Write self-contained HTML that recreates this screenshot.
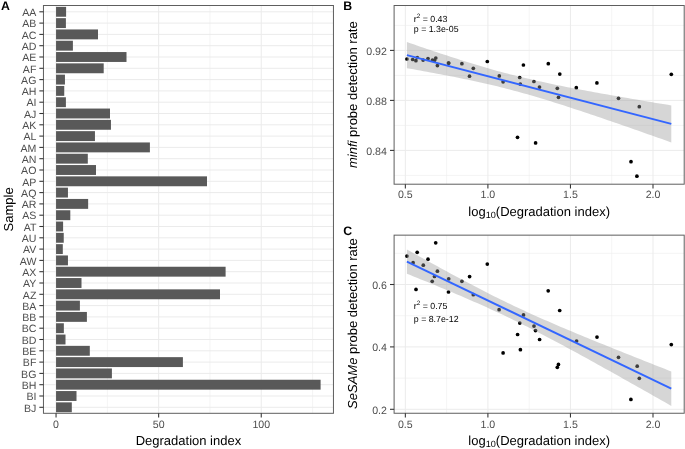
<!DOCTYPE html>
<html><head><meta charset="utf-8"><style>
html,body{margin:0;padding:0;background:#fff;}
svg{display:block;font-family:"Liberation Sans", sans-serif;text-rendering:geometricPrecision;will-change:transform;}
</style></head><body>
<svg width="685" height="449" viewBox="0 0 685 449">
<rect width="685" height="449" fill="#fff"/>
<line x1="43.45" y1="11.8" x2="333.45" y2="11.8" stroke="#EBEBEB" stroke-width="1"/>
<line x1="43.45" y1="23.1" x2="333.45" y2="23.1" stroke="#EBEBEB" stroke-width="1"/>
<line x1="43.45" y1="34.4" x2="333.45" y2="34.4" stroke="#EBEBEB" stroke-width="1"/>
<line x1="43.45" y1="45.7" x2="333.45" y2="45.7" stroke="#EBEBEB" stroke-width="1"/>
<line x1="43.45" y1="57" x2="333.45" y2="57" stroke="#EBEBEB" stroke-width="1"/>
<line x1="43.45" y1="68.3" x2="333.45" y2="68.3" stroke="#EBEBEB" stroke-width="1"/>
<line x1="43.45" y1="79.6" x2="333.45" y2="79.6" stroke="#EBEBEB" stroke-width="1"/>
<line x1="43.45" y1="90.9" x2="333.45" y2="90.9" stroke="#EBEBEB" stroke-width="1"/>
<line x1="43.45" y1="102.2" x2="333.45" y2="102.2" stroke="#EBEBEB" stroke-width="1"/>
<line x1="43.45" y1="113.5" x2="333.45" y2="113.5" stroke="#EBEBEB" stroke-width="1"/>
<line x1="43.45" y1="124.8" x2="333.45" y2="124.8" stroke="#EBEBEB" stroke-width="1"/>
<line x1="43.45" y1="136.1" x2="333.45" y2="136.1" stroke="#EBEBEB" stroke-width="1"/>
<line x1="43.45" y1="147.4" x2="333.45" y2="147.4" stroke="#EBEBEB" stroke-width="1"/>
<line x1="43.45" y1="158.7" x2="333.45" y2="158.7" stroke="#EBEBEB" stroke-width="1"/>
<line x1="43.45" y1="170" x2="333.45" y2="170" stroke="#EBEBEB" stroke-width="1"/>
<line x1="43.45" y1="181.3" x2="333.45" y2="181.3" stroke="#EBEBEB" stroke-width="1"/>
<line x1="43.45" y1="192.6" x2="333.45" y2="192.6" stroke="#EBEBEB" stroke-width="1"/>
<line x1="43.45" y1="203.9" x2="333.45" y2="203.9" stroke="#EBEBEB" stroke-width="1"/>
<line x1="43.45" y1="215.2" x2="333.45" y2="215.2" stroke="#EBEBEB" stroke-width="1"/>
<line x1="43.45" y1="226.5" x2="333.45" y2="226.5" stroke="#EBEBEB" stroke-width="1"/>
<line x1="43.45" y1="237.8" x2="333.45" y2="237.8" stroke="#EBEBEB" stroke-width="1"/>
<line x1="43.45" y1="249.1" x2="333.45" y2="249.1" stroke="#EBEBEB" stroke-width="1"/>
<line x1="43.45" y1="260.4" x2="333.45" y2="260.4" stroke="#EBEBEB" stroke-width="1"/>
<line x1="43.45" y1="271.7" x2="333.45" y2="271.7" stroke="#EBEBEB" stroke-width="1"/>
<line x1="43.45" y1="283" x2="333.45" y2="283" stroke="#EBEBEB" stroke-width="1"/>
<line x1="43.45" y1="294.3" x2="333.45" y2="294.3" stroke="#EBEBEB" stroke-width="1"/>
<line x1="43.45" y1="305.6" x2="333.45" y2="305.6" stroke="#EBEBEB" stroke-width="1"/>
<line x1="43.45" y1="316.9" x2="333.45" y2="316.9" stroke="#EBEBEB" stroke-width="1"/>
<line x1="43.45" y1="328.2" x2="333.45" y2="328.2" stroke="#EBEBEB" stroke-width="1"/>
<line x1="43.45" y1="339.5" x2="333.45" y2="339.5" stroke="#EBEBEB" stroke-width="1"/>
<line x1="43.45" y1="350.8" x2="333.45" y2="350.8" stroke="#EBEBEB" stroke-width="1"/>
<line x1="43.45" y1="362.1" x2="333.45" y2="362.1" stroke="#EBEBEB" stroke-width="1"/>
<line x1="43.45" y1="373.4" x2="333.45" y2="373.4" stroke="#EBEBEB" stroke-width="1"/>
<line x1="43.45" y1="384.7" x2="333.45" y2="384.7" stroke="#EBEBEB" stroke-width="1"/>
<line x1="43.45" y1="396" x2="333.45" y2="396" stroke="#EBEBEB" stroke-width="1"/>
<line x1="43.45" y1="407.3" x2="333.45" y2="407.3" stroke="#EBEBEB" stroke-width="1"/>
<line x1="107.35" y1="5.5" x2="107.35" y2="413.3" stroke="#EBEBEB" stroke-width="0.55"/>
<line x1="209.95" y1="5.5" x2="209.95" y2="413.3" stroke="#EBEBEB" stroke-width="0.55"/>
<line x1="312.55" y1="5.5" x2="312.55" y2="413.3" stroke="#EBEBEB" stroke-width="0.55"/>
<line x1="56.05" y1="5.5" x2="56.05" y2="413.3" stroke="#EBEBEB" stroke-width="1"/>
<line x1="158.65" y1="5.5" x2="158.65" y2="413.3" stroke="#EBEBEB" stroke-width="1"/>
<line x1="261.25" y1="5.5" x2="261.25" y2="413.3" stroke="#EBEBEB" stroke-width="1"/>
<rect x="56.05" y="6.85" width="10.05" height="9.9" fill="#595959"/>
<rect x="56.05" y="18.15" width="9.85" height="9.9" fill="#595959"/>
<rect x="56.05" y="29.45" width="41.95" height="9.9" fill="#595959"/>
<rect x="56.05" y="40.75" width="16.85" height="9.9" fill="#595959"/>
<rect x="56.05" y="52.05" width="70.45" height="9.9" fill="#595959"/>
<rect x="56.05" y="63.35" width="47.65" height="9.9" fill="#595959"/>
<rect x="56.05" y="74.65" width="8.9" height="9.9" fill="#595959"/>
<rect x="56.05" y="85.95" width="8.2" height="9.9" fill="#595959"/>
<rect x="56.05" y="97.25" width="9.85" height="9.9" fill="#595959"/>
<rect x="56.05" y="108.55" width="53.95" height="9.9" fill="#595959"/>
<rect x="56.05" y="119.85" width="54.9" height="9.9" fill="#595959"/>
<rect x="56.05" y="131.15" width="38.9" height="9.9" fill="#595959"/>
<rect x="56.05" y="142.45" width="93.85" height="9.9" fill="#595959"/>
<rect x="56.05" y="153.75" width="31.75" height="9.9" fill="#595959"/>
<rect x="56.05" y="165.05" width="39.95" height="9.9" fill="#595959"/>
<rect x="56.05" y="176.35" width="150.95" height="9.9" fill="#595959"/>
<rect x="56.05" y="187.65" width="11.9" height="9.9" fill="#595959"/>
<rect x="56.05" y="198.95" width="32.1" height="9.9" fill="#595959"/>
<rect x="56.05" y="210.25" width="14.25" height="9.9" fill="#595959"/>
<rect x="56.05" y="221.55" width="7.05" height="9.9" fill="#595959"/>
<rect x="56.05" y="232.85" width="7.7" height="9.9" fill="#595959"/>
<rect x="56.05" y="244.15" width="6.75" height="9.9" fill="#595959"/>
<rect x="56.05" y="255.45" width="11.9" height="9.9" fill="#595959"/>
<rect x="56.05" y="266.75" width="169.55" height="9.9" fill="#595959"/>
<rect x="56.05" y="278.05" width="25.45" height="9.9" fill="#595959"/>
<rect x="56.05" y="289.35" width="163.95" height="9.9" fill="#595959"/>
<rect x="56.05" y="300.65" width="23.85" height="9.9" fill="#595959"/>
<rect x="56.05" y="311.95" width="30.85" height="9.9" fill="#595959"/>
<rect x="56.05" y="323.25" width="7.8" height="9.9" fill="#595959"/>
<rect x="56.05" y="334.55" width="9.45" height="9.9" fill="#595959"/>
<rect x="56.05" y="345.85" width="33.75" height="9.9" fill="#595959"/>
<rect x="56.05" y="357.15" width="126.85" height="9.9" fill="#595959"/>
<rect x="56.05" y="368.45" width="55.85" height="9.9" fill="#595959"/>
<rect x="56.05" y="379.75" width="264.55" height="9.9" fill="#595959"/>
<rect x="56.05" y="391.05" width="20.45" height="9.9" fill="#595959"/>
<rect x="56.05" y="402.35" width="15.75" height="9.9" fill="#595959"/>
<rect x="43.45" y="5.5" width="290" height="407.8" fill="none" stroke="#5e5e5e" stroke-width="1"/>
<line x1="39.35" y1="11.8" x2="43.45" y2="11.8" stroke="#333333" stroke-width="1.07"/>
<text x="36.4" y="16.05" font-size="10.6" fill="#4D4D4D" text-anchor="end">AA</text>
<line x1="39.35" y1="23.1" x2="43.45" y2="23.1" stroke="#333333" stroke-width="1.07"/>
<text x="36.4" y="27.35" font-size="10.6" fill="#4D4D4D" text-anchor="end">AB</text>
<line x1="39.35" y1="34.4" x2="43.45" y2="34.4" stroke="#333333" stroke-width="1.07"/>
<text x="36.4" y="38.65" font-size="10.6" fill="#4D4D4D" text-anchor="end">AC</text>
<line x1="39.35" y1="45.7" x2="43.45" y2="45.7" stroke="#333333" stroke-width="1.07"/>
<text x="36.4" y="49.95" font-size="10.6" fill="#4D4D4D" text-anchor="end">AD</text>
<line x1="39.35" y1="57" x2="43.45" y2="57" stroke="#333333" stroke-width="1.07"/>
<text x="36.4" y="61.25" font-size="10.6" fill="#4D4D4D" text-anchor="end">AE</text>
<line x1="39.35" y1="68.3" x2="43.45" y2="68.3" stroke="#333333" stroke-width="1.07"/>
<text x="36.4" y="72.55" font-size="10.6" fill="#4D4D4D" text-anchor="end">AF</text>
<line x1="39.35" y1="79.6" x2="43.45" y2="79.6" stroke="#333333" stroke-width="1.07"/>
<text x="36.4" y="83.85" font-size="10.6" fill="#4D4D4D" text-anchor="end">AG</text>
<line x1="39.35" y1="90.9" x2="43.45" y2="90.9" stroke="#333333" stroke-width="1.07"/>
<text x="36.4" y="95.15" font-size="10.6" fill="#4D4D4D" text-anchor="end">AH</text>
<line x1="39.35" y1="102.2" x2="43.45" y2="102.2" stroke="#333333" stroke-width="1.07"/>
<text x="36.4" y="106.45" font-size="10.6" fill="#4D4D4D" text-anchor="end">AI</text>
<line x1="39.35" y1="113.5" x2="43.45" y2="113.5" stroke="#333333" stroke-width="1.07"/>
<text x="36.4" y="117.75" font-size="10.6" fill="#4D4D4D" text-anchor="end">AJ</text>
<line x1="39.35" y1="124.8" x2="43.45" y2="124.8" stroke="#333333" stroke-width="1.07"/>
<text x="36.4" y="129.05" font-size="10.6" fill="#4D4D4D" text-anchor="end">AK</text>
<line x1="39.35" y1="136.1" x2="43.45" y2="136.1" stroke="#333333" stroke-width="1.07"/>
<text x="36.4" y="140.35" font-size="10.6" fill="#4D4D4D" text-anchor="end">AL</text>
<line x1="39.35" y1="147.4" x2="43.45" y2="147.4" stroke="#333333" stroke-width="1.07"/>
<text x="36.4" y="151.65" font-size="10.6" fill="#4D4D4D" text-anchor="end">AM</text>
<line x1="39.35" y1="158.7" x2="43.45" y2="158.7" stroke="#333333" stroke-width="1.07"/>
<text x="36.4" y="162.95" font-size="10.6" fill="#4D4D4D" text-anchor="end">AN</text>
<line x1="39.35" y1="170" x2="43.45" y2="170" stroke="#333333" stroke-width="1.07"/>
<text x="36.4" y="174.25" font-size="10.6" fill="#4D4D4D" text-anchor="end">AO</text>
<line x1="39.35" y1="181.3" x2="43.45" y2="181.3" stroke="#333333" stroke-width="1.07"/>
<text x="36.4" y="185.55" font-size="10.6" fill="#4D4D4D" text-anchor="end">AP</text>
<line x1="39.35" y1="192.6" x2="43.45" y2="192.6" stroke="#333333" stroke-width="1.07"/>
<text x="36.4" y="196.85" font-size="10.6" fill="#4D4D4D" text-anchor="end">AQ</text>
<line x1="39.35" y1="203.9" x2="43.45" y2="203.9" stroke="#333333" stroke-width="1.07"/>
<text x="36.4" y="208.15" font-size="10.6" fill="#4D4D4D" text-anchor="end">AR</text>
<line x1="39.35" y1="215.2" x2="43.45" y2="215.2" stroke="#333333" stroke-width="1.07"/>
<text x="36.4" y="219.45" font-size="10.6" fill="#4D4D4D" text-anchor="end">AS</text>
<line x1="39.35" y1="226.5" x2="43.45" y2="226.5" stroke="#333333" stroke-width="1.07"/>
<text x="36.4" y="230.75" font-size="10.6" fill="#4D4D4D" text-anchor="end">AT</text>
<line x1="39.35" y1="237.8" x2="43.45" y2="237.8" stroke="#333333" stroke-width="1.07"/>
<text x="36.4" y="242.05" font-size="10.6" fill="#4D4D4D" text-anchor="end">AU</text>
<line x1="39.35" y1="249.1" x2="43.45" y2="249.1" stroke="#333333" stroke-width="1.07"/>
<text x="36.4" y="253.35" font-size="10.6" fill="#4D4D4D" text-anchor="end">AV</text>
<line x1="39.35" y1="260.4" x2="43.45" y2="260.4" stroke="#333333" stroke-width="1.07"/>
<text x="36.4" y="264.65" font-size="10.6" fill="#4D4D4D" text-anchor="end">AW</text>
<line x1="39.35" y1="271.7" x2="43.45" y2="271.7" stroke="#333333" stroke-width="1.07"/>
<text x="36.4" y="275.95" font-size="10.6" fill="#4D4D4D" text-anchor="end">AX</text>
<line x1="39.35" y1="283" x2="43.45" y2="283" stroke="#333333" stroke-width="1.07"/>
<text x="36.4" y="287.25" font-size="10.6" fill="#4D4D4D" text-anchor="end">AY</text>
<line x1="39.35" y1="294.3" x2="43.45" y2="294.3" stroke="#333333" stroke-width="1.07"/>
<text x="36.4" y="298.55" font-size="10.6" fill="#4D4D4D" text-anchor="end">AZ</text>
<line x1="39.35" y1="305.6" x2="43.45" y2="305.6" stroke="#333333" stroke-width="1.07"/>
<text x="36.4" y="309.85" font-size="10.6" fill="#4D4D4D" text-anchor="end">BA</text>
<line x1="39.35" y1="316.9" x2="43.45" y2="316.9" stroke="#333333" stroke-width="1.07"/>
<text x="36.4" y="321.15" font-size="10.6" fill="#4D4D4D" text-anchor="end">BB</text>
<line x1="39.35" y1="328.2" x2="43.45" y2="328.2" stroke="#333333" stroke-width="1.07"/>
<text x="36.4" y="332.45" font-size="10.6" fill="#4D4D4D" text-anchor="end">BC</text>
<line x1="39.35" y1="339.5" x2="43.45" y2="339.5" stroke="#333333" stroke-width="1.07"/>
<text x="36.4" y="343.75" font-size="10.6" fill="#4D4D4D" text-anchor="end">BD</text>
<line x1="39.35" y1="350.8" x2="43.45" y2="350.8" stroke="#333333" stroke-width="1.07"/>
<text x="36.4" y="355.05" font-size="10.6" fill="#4D4D4D" text-anchor="end">BE</text>
<line x1="39.35" y1="362.1" x2="43.45" y2="362.1" stroke="#333333" stroke-width="1.07"/>
<text x="36.4" y="366.35" font-size="10.6" fill="#4D4D4D" text-anchor="end">BF</text>
<line x1="39.35" y1="373.4" x2="43.45" y2="373.4" stroke="#333333" stroke-width="1.07"/>
<text x="36.4" y="377.65" font-size="10.6" fill="#4D4D4D" text-anchor="end">BG</text>
<line x1="39.35" y1="384.7" x2="43.45" y2="384.7" stroke="#333333" stroke-width="1.07"/>
<text x="36.4" y="388.95" font-size="10.6" fill="#4D4D4D" text-anchor="end">BH</text>
<line x1="39.35" y1="396" x2="43.45" y2="396" stroke="#333333" stroke-width="1.07"/>
<text x="36.4" y="400.25" font-size="10.6" fill="#4D4D4D" text-anchor="end">BI</text>
<line x1="39.35" y1="407.3" x2="43.45" y2="407.3" stroke="#333333" stroke-width="1.07"/>
<text x="36.4" y="411.55" font-size="10.6" fill="#4D4D4D" text-anchor="end">BJ</text>
<line x1="56.05" y1="413.3" x2="56.05" y2="417.5" stroke="#333333" stroke-width="1.07"/>
<text x="56.05" y="428" font-size="10.6" fill="#4D4D4D" text-anchor="middle">0</text>
<line x1="158.65" y1="413.3" x2="158.65" y2="417.5" stroke="#333333" stroke-width="1.07"/>
<text x="158.65" y="428" font-size="10.6" fill="#4D4D4D" text-anchor="middle">50</text>
<line x1="261.25" y1="413.3" x2="261.25" y2="417.5" stroke="#333333" stroke-width="1.07"/>
<text x="261.25" y="428" font-size="10.6" fill="#4D4D4D" text-anchor="middle">100</text>
<text x="188.45" y="445.1" font-size="13" fill="#000" text-anchor="middle">Degradation index</text>
<text transform="translate(13.3,209.4) rotate(-90)" font-size="13" fill="#000" text-anchor="middle">Sample</text>
<text x="1" y="9.8" font-size="12.3" fill="#000" text-anchor="start" font-weight="bold">A</text>
<line x1="394.1" y1="25.4" x2="684.2" y2="25.4" stroke="#EBEBEB" stroke-width="0.55"/>
<line x1="394.1" y1="75.4" x2="684.2" y2="75.4" stroke="#EBEBEB" stroke-width="0.55"/>
<line x1="394.1" y1="125.4" x2="684.2" y2="125.4" stroke="#EBEBEB" stroke-width="0.55"/>
<line x1="394.1" y1="175.4" x2="684.2" y2="175.4" stroke="#EBEBEB" stroke-width="0.55"/>
<line x1="446.62" y1="5.5" x2="446.62" y2="184.2" stroke="#EBEBEB" stroke-width="0.55"/>
<line x1="529.17" y1="5.5" x2="529.17" y2="184.2" stroke="#EBEBEB" stroke-width="0.55"/>
<line x1="611.73" y1="5.5" x2="611.73" y2="184.2" stroke="#EBEBEB" stroke-width="0.55"/>
<line x1="394.1" y1="50.4" x2="684.2" y2="50.4" stroke="#EBEBEB" stroke-width="1"/>
<line x1="394.1" y1="100.4" x2="684.2" y2="100.4" stroke="#EBEBEB" stroke-width="1"/>
<line x1="394.1" y1="150.4" x2="684.2" y2="150.4" stroke="#EBEBEB" stroke-width="1"/>
<line x1="405.35" y1="5.5" x2="405.35" y2="184.2" stroke="#EBEBEB" stroke-width="1"/>
<line x1="487.9" y1="5.5" x2="487.9" y2="184.2" stroke="#EBEBEB" stroke-width="1"/>
<line x1="570.45" y1="5.5" x2="570.45" y2="184.2" stroke="#EBEBEB" stroke-width="1"/>
<line x1="653" y1="5.5" x2="653" y2="184.2" stroke="#EBEBEB" stroke-width="1"/>
<circle cx="406.9" cy="59" r="1.85" fill="#000"/>
<circle cx="412.7" cy="59.5" r="1.85" fill="#000"/>
<circle cx="415.9" cy="60.7" r="1.85" fill="#000"/>
<circle cx="417.3" cy="57.5" r="1.85" fill="#000"/>
<circle cx="423.1" cy="60.1" r="1.85" fill="#000"/>
<circle cx="428" cy="58.5" r="1.85" fill="#000"/>
<circle cx="432.5" cy="60" r="1.85" fill="#000"/>
<circle cx="434.5" cy="60.3" r="1.85" fill="#000"/>
<circle cx="435.8" cy="58" r="1.85" fill="#000"/>
<circle cx="437.4" cy="65.6" r="1.85" fill="#000"/>
<circle cx="448.7" cy="63.1" r="1.85" fill="#000"/>
<circle cx="448.5" cy="63.1" r="1.85" fill="#000"/>
<circle cx="461.9" cy="63.7" r="1.85" fill="#000"/>
<circle cx="469.5" cy="76.2" r="1.85" fill="#000"/>
<circle cx="473.3" cy="68.3" r="1.85" fill="#000"/>
<circle cx="487.3" cy="61.5" r="1.85" fill="#000"/>
<circle cx="499.3" cy="75.9" r="1.85" fill="#000"/>
<circle cx="503.1" cy="81.8" r="1.85" fill="#000"/>
<circle cx="517.5" cy="137.3" r="1.85" fill="#000"/>
<circle cx="519.7" cy="77.5" r="1.85" fill="#000"/>
<circle cx="520.3" cy="84.1" r="1.85" fill="#000"/>
<circle cx="523.4" cy="65" r="1.85" fill="#000"/>
<circle cx="533.9" cy="81.5" r="1.85" fill="#000"/>
<circle cx="535.6" cy="142.9" r="1.85" fill="#000"/>
<circle cx="539.5" cy="87.1" r="1.85" fill="#000"/>
<circle cx="548.3" cy="63.7" r="1.85" fill="#000"/>
<circle cx="557.3" cy="88.3" r="1.85" fill="#000"/>
<circle cx="558.5" cy="97.3" r="1.85" fill="#000"/>
<circle cx="559.8" cy="74.1" r="1.85" fill="#000"/>
<circle cx="576.3" cy="87.7" r="1.85" fill="#000"/>
<circle cx="596.9" cy="82.9" r="1.85" fill="#000"/>
<circle cx="618.5" cy="98.3" r="1.85" fill="#000"/>
<circle cx="631" cy="161.7" r="1.85" fill="#000"/>
<circle cx="636.9" cy="176.2" r="1.85" fill="#000"/>
<circle cx="639.3" cy="106.7" r="1.85" fill="#000"/>
<circle cx="671.3" cy="74.3" r="1.85" fill="#000"/>
<polygon points="406.9,42.06 410.25,43.21 413.59,44.36 416.94,45.5 420.29,46.64 423.63,47.78 426.98,48.91 430.33,50.04 433.67,51.16 437.02,52.27 440.37,53.38 443.72,54.49 447.06,55.58 450.41,56.67 453.76,57.76 457.1,58.83 460.45,59.9 463.8,60.95 467.14,62 470.49,63.04 473.84,64.06 477.18,65.08 480.53,66.08 483.88,67.07 487.22,68.04 490.57,69 493.92,69.95 497.26,70.88 500.61,71.8 503.96,72.7 507.31,73.59 510.65,74.46 514,75.31 517.35,76.15 520.69,76.98 524.04,77.79 527.39,78.58 530.73,79.36 534.08,80.13 537.43,80.88 540.77,81.62 544.12,82.34 547.47,83.06 550.81,83.77 554.16,84.46 557.51,85.14 560.85,85.82 564.2,86.49 567.55,87.15 570.89,87.8 574.24,88.44 577.59,89.08 580.94,89.71 584.28,90.34 587.63,90.96 590.98,91.57 594.32,92.18 597.67,92.79 601.02,93.39 604.36,93.99 607.71,94.59 611.06,95.18 614.4,95.77 617.75,96.35 621.1,96.93 624.44,97.51 627.79,98.09 631.14,98.67 634.48,99.24 637.83,99.81 641.18,100.38 644.53,100.95 647.87,101.51 651.22,102.07 654.57,102.64 657.91,103.2 661.26,103.76 664.61,104.32 667.95,104.87 671.3,105.43 671.3,142.41 667.95,141.22 664.61,140.04 661.26,138.85 657.91,137.67 654.57,136.49 651.22,135.31 647.87,134.13 644.53,132.96 641.18,131.78 637.83,130.61 634.48,129.44 631.14,128.27 627.79,127.1 624.44,125.94 621.1,124.77 617.75,123.62 614.4,122.46 611.06,121.3 607.71,120.15 604.36,119.01 601.02,117.86 597.67,116.72 594.32,115.59 590.98,114.46 587.63,113.33 584.28,112.21 580.94,111.09 577.59,109.98 574.24,108.88 570.89,107.78 567.55,106.69 564.2,105.61 560.85,104.53 557.51,103.47 554.16,102.41 550.81,101.36 547.47,100.32 544.12,99.3 540.77,98.28 537.43,97.28 534.08,96.29 530.73,95.31 527.39,94.35 524.04,93.4 520.69,92.47 517.35,91.55 514,90.65 510.65,89.76 507.31,88.89 503.96,88.03 500.61,87.19 497.26,86.37 493.92,85.56 490.57,84.77 487.22,83.99 483.88,83.22 480.53,82.47 477.18,81.73 473.84,81 470.49,80.28 467.14,79.58 463.8,78.88 460.45,78.2 457.1,77.52 453.76,76.85 450.41,76.19 447.06,75.54 443.72,74.9 440.37,74.26 437.02,73.63 433.67,73 430.33,72.38 426.98,71.76 423.63,71.15 420.29,70.55 416.94,69.94 413.59,69.34 410.25,68.75 406.9,68.16" fill="#999999" fill-opacity="0.4"/>
<line x1="406.9" y1="55.11" x2="671.3" y2="123.92" stroke="#3366FF" stroke-width="1.9"/>
<rect x="394.1" y="5.5" width="290.1" height="178.7" fill="none" stroke="#5e5e5e" stroke-width="1"/>
<line x1="390" y1="50.4" x2="394.1" y2="50.4" stroke="#333333" stroke-width="1.07"/>
<text x="386.9" y="54.7" font-size="10.6" fill="#4D4D4D" text-anchor="end">0.92</text>
<line x1="390" y1="100.4" x2="394.1" y2="100.4" stroke="#333333" stroke-width="1.07"/>
<text x="386.9" y="104.7" font-size="10.6" fill="#4D4D4D" text-anchor="end">0.88</text>
<line x1="390" y1="150.4" x2="394.1" y2="150.4" stroke="#333333" stroke-width="1.07"/>
<text x="386.9" y="154.7" font-size="10.6" fill="#4D4D4D" text-anchor="end">0.84</text>
<line x1="405.35" y1="184.2" x2="405.35" y2="188.4" stroke="#333333" stroke-width="1.07"/>
<text x="405.35" y="198.1" font-size="10.6" fill="#4D4D4D" text-anchor="middle">0.5</text>
<line x1="487.9" y1="184.2" x2="487.9" y2="188.4" stroke="#333333" stroke-width="1.07"/>
<text x="487.9" y="198.1" font-size="10.6" fill="#4D4D4D" text-anchor="middle">1.0</text>
<line x1="570.45" y1="184.2" x2="570.45" y2="188.4" stroke="#333333" stroke-width="1.07"/>
<text x="570.45" y="198.1" font-size="10.6" fill="#4D4D4D" text-anchor="middle">1.5</text>
<line x1="653" y1="184.2" x2="653" y2="188.4" stroke="#333333" stroke-width="1.07"/>
<text x="653" y="198.1" font-size="10.6" fill="#4D4D4D" text-anchor="middle">2.0</text>
<text x="539.15" y="215.8" font-size="13" fill="#000" text-anchor="middle">log<tspan font-size="9.1" dy="1.9">10</tspan><tspan dy="-1.9">(Degradation index)</tspan></text>
<text transform="translate(356.9,94.65) rotate(-90)" font-size="13" fill="#000" text-anchor="middle"><tspan font-style="italic">minfi</tspan> probe detection rate</text>
<text x="413.8" y="22" font-size="8.8" fill="#000">r<tspan font-size="6.3" dy="-4.2">2</tspan><tspan dy="4.2"> = 0.43</tspan></text>
<text x="413.8" y="31.8" font-size="8.8" fill="#000" text-anchor="start">p = 1.3e-05</text>
<text x="343.2" y="10" font-size="12.3" fill="#000" text-anchor="start" font-weight="bold">B</text>
<line x1="394.1" y1="253.3" x2="684.2" y2="253.3" stroke="#EBEBEB" stroke-width="0.55"/>
<line x1="394.1" y1="315.7" x2="684.2" y2="315.7" stroke="#EBEBEB" stroke-width="0.55"/>
<line x1="394.1" y1="378.1" x2="684.2" y2="378.1" stroke="#EBEBEB" stroke-width="0.55"/>
<line x1="446.62" y1="235.15" x2="446.62" y2="413.25" stroke="#EBEBEB" stroke-width="0.55"/>
<line x1="529.17" y1="235.15" x2="529.17" y2="413.25" stroke="#EBEBEB" stroke-width="0.55"/>
<line x1="611.73" y1="235.15" x2="611.73" y2="413.25" stroke="#EBEBEB" stroke-width="0.55"/>
<line x1="394.1" y1="284.5" x2="684.2" y2="284.5" stroke="#EBEBEB" stroke-width="1"/>
<line x1="394.1" y1="346.9" x2="684.2" y2="346.9" stroke="#EBEBEB" stroke-width="1"/>
<line x1="394.1" y1="409.3" x2="684.2" y2="409.3" stroke="#EBEBEB" stroke-width="1"/>
<line x1="405.35" y1="235.15" x2="405.35" y2="413.25" stroke="#EBEBEB" stroke-width="1"/>
<line x1="487.9" y1="235.15" x2="487.9" y2="413.25" stroke="#EBEBEB" stroke-width="1"/>
<line x1="570.45" y1="235.15" x2="570.45" y2="413.25" stroke="#EBEBEB" stroke-width="1"/>
<line x1="653" y1="235.15" x2="653" y2="413.25" stroke="#EBEBEB" stroke-width="1"/>
<circle cx="406.9" cy="256.1" r="1.85" fill="#000"/>
<circle cx="413.1" cy="262.7" r="1.85" fill="#000"/>
<circle cx="416" cy="289.4" r="1.85" fill="#000"/>
<circle cx="417.2" cy="252.3" r="1.85" fill="#000"/>
<circle cx="423.3" cy="265.2" r="1.85" fill="#000"/>
<circle cx="428" cy="259.2" r="1.85" fill="#000"/>
<circle cx="432.2" cy="281.3" r="1.85" fill="#000"/>
<circle cx="434.5" cy="276.5" r="1.85" fill="#000"/>
<circle cx="435.7" cy="242.8" r="1.85" fill="#000"/>
<circle cx="437.4" cy="271.2" r="1.85" fill="#000"/>
<circle cx="448.7" cy="278.8" r="1.85" fill="#000"/>
<circle cx="448.5" cy="292" r="1.85" fill="#000"/>
<circle cx="461.9" cy="281.3" r="1.85" fill="#000"/>
<circle cx="469.6" cy="276.6" r="1.85" fill="#000"/>
<circle cx="473.3" cy="294.7" r="1.85" fill="#000"/>
<circle cx="487.3" cy="264.1" r="1.85" fill="#000"/>
<circle cx="499.1" cy="309.7" r="1.85" fill="#000"/>
<circle cx="503.1" cy="352.9" r="1.85" fill="#000"/>
<circle cx="517.6" cy="334.5" r="1.85" fill="#000"/>
<circle cx="519.8" cy="323.1" r="1.85" fill="#000"/>
<circle cx="520.4" cy="349.7" r="1.85" fill="#000"/>
<circle cx="523.5" cy="314.9" r="1.85" fill="#000"/>
<circle cx="534" cy="326.1" r="1.85" fill="#000"/>
<circle cx="535.5" cy="330.6" r="1.85" fill="#000"/>
<circle cx="539.6" cy="339.5" r="1.85" fill="#000"/>
<circle cx="548.2" cy="290.8" r="1.85" fill="#000"/>
<circle cx="557.3" cy="367.3" r="1.85" fill="#000"/>
<circle cx="558.45" cy="364.4" r="1.85" fill="#000"/>
<circle cx="559.7" cy="310.5" r="1.85" fill="#000"/>
<circle cx="576.6" cy="341" r="1.85" fill="#000"/>
<circle cx="597" cy="337.05" r="1.85" fill="#000"/>
<circle cx="618.5" cy="357.3" r="1.85" fill="#000"/>
<circle cx="630.9" cy="399.4" r="1.85" fill="#000"/>
<circle cx="637.2" cy="366.2" r="1.85" fill="#000"/>
<circle cx="639.3" cy="378.3" r="1.85" fill="#000"/>
<circle cx="671.3" cy="344.6" r="1.85" fill="#000"/>
<polygon points="406.9,249.43 410.25,251.3 413.59,253.16 416.94,255.03 420.29,256.89 423.63,258.74 426.98,260.59 430.33,262.44 433.67,264.28 437.02,266.12 440.37,267.95 443.72,269.77 447.06,271.59 450.41,273.41 453.76,275.21 457.1,277.01 460.45,278.8 463.8,280.58 467.14,282.36 470.49,284.12 473.84,285.87 477.18,287.61 480.53,289.34 483.88,291.06 487.22,292.77 490.57,294.46 493.92,296.14 497.26,297.81 500.61,299.46 503.96,301.1 507.31,302.72 510.65,304.33 514,305.93 517.35,307.51 520.69,309.07 524.04,310.62 527.39,312.16 530.73,313.68 534.08,315.19 537.43,316.69 540.77,318.18 544.12,319.66 547.47,321.12 550.81,322.57 554.16,324.02 557.51,325.46 560.85,326.88 564.2,328.3 567.55,329.71 570.89,331.12 574.24,332.52 577.59,333.91 580.94,335.29 584.28,336.68 587.63,338.05 590.98,339.42 594.32,340.79 597.67,342.15 601.02,343.51 604.36,344.87 607.71,346.22 611.06,347.57 614.4,348.91 617.75,350.26 621.1,351.6 624.44,352.94 627.79,354.27 631.14,355.61 634.48,356.94 637.83,358.27 641.18,359.59 644.53,360.92 647.87,362.25 651.22,363.57 654.57,364.89 657.91,366.21 661.26,367.53 664.61,368.85 667.95,370.16 671.3,371.48 671.3,405.89 667.95,403.98 664.61,402.08 661.26,400.18 657.91,398.28 654.57,396.39 651.22,394.49 647.87,392.59 644.53,390.7 641.18,388.81 637.83,386.92 634.48,385.03 631.14,383.15 627.79,381.26 624.44,379.38 621.1,377.5 617.75,375.62 614.4,373.75 611.06,371.87 607.71,370.01 604.36,368.14 601.02,366.28 597.67,364.42 594.32,362.56 590.98,360.71 587.63,358.86 584.28,357.02 580.94,355.19 577.59,353.35 574.24,351.53 570.89,349.71 567.55,347.9 564.2,346.09 560.85,344.29 557.51,342.5 554.16,340.72 550.81,338.94 547.47,337.18 544.12,335.43 540.77,333.69 537.43,331.95 534.08,330.23 530.73,328.53 527.39,326.83 524.04,325.15 520.69,323.49 517.35,321.83 514,320.19 510.65,318.57 507.31,316.96 503.96,315.37 500.61,313.79 497.26,312.22 493.92,310.67 490.57,309.13 487.22,307.61 483.88,306.1 480.53,304.6 477.18,303.11 473.84,301.63 470.49,300.17 467.14,298.71 463.8,297.27 460.45,295.83 457.1,294.4 453.76,292.98 450.41,291.57 447.06,290.17 443.72,288.77 440.37,287.38 437.02,285.99 433.67,284.61 430.33,283.23 426.98,281.86 423.63,280.49 420.29,279.13 416.94,277.77 413.59,276.42 410.25,275.06 406.9,273.71" fill="#999999" fill-opacity="0.4"/>
<line x1="406.9" y1="261.57" x2="671.3" y2="388.68" stroke="#3366FF" stroke-width="1.9"/>
<rect x="394.1" y="235.15" width="290.1" height="178.1" fill="none" stroke="#5e5e5e" stroke-width="1"/>
<line x1="390" y1="284.5" x2="394.1" y2="284.5" stroke="#333333" stroke-width="1.07"/>
<text x="386.9" y="288.8" font-size="10.6" fill="#4D4D4D" text-anchor="end">0.6</text>
<line x1="390" y1="346.9" x2="394.1" y2="346.9" stroke="#333333" stroke-width="1.07"/>
<text x="386.9" y="351.2" font-size="10.6" fill="#4D4D4D" text-anchor="end">0.4</text>
<line x1="390" y1="409.3" x2="394.1" y2="409.3" stroke="#333333" stroke-width="1.07"/>
<text x="386.9" y="413.6" font-size="10.6" fill="#4D4D4D" text-anchor="end">0.2</text>
<line x1="405.35" y1="413.25" x2="405.35" y2="417.45" stroke="#333333" stroke-width="1.07"/>
<text x="405.35" y="428" font-size="10.6" fill="#4D4D4D" text-anchor="middle">0.5</text>
<line x1="487.9" y1="413.25" x2="487.9" y2="417.45" stroke="#333333" stroke-width="1.07"/>
<text x="487.9" y="428" font-size="10.6" fill="#4D4D4D" text-anchor="middle">1.0</text>
<line x1="570.45" y1="413.25" x2="570.45" y2="417.45" stroke="#333333" stroke-width="1.07"/>
<text x="570.45" y="428" font-size="10.6" fill="#4D4D4D" text-anchor="middle">1.5</text>
<line x1="653" y1="413.25" x2="653" y2="417.45" stroke="#333333" stroke-width="1.07"/>
<text x="653" y="428" font-size="10.6" fill="#4D4D4D" text-anchor="middle">2.0</text>
<text x="539.15" y="445.3" font-size="13" fill="#000" text-anchor="middle">log<tspan font-size="9.1" dy="1.9">10</tspan><tspan dy="-1.9">(Degradation index)</tspan></text>
<text transform="translate(356.9,323.65) rotate(-90)" font-size="13" fill="#000" text-anchor="middle"><tspan font-style="italic">SeSAMe</tspan> probe detection rate</text>
<text x="413.8" y="309.2" font-size="8.8" fill="#000">r<tspan font-size="6.3" dy="-4.2">2</tspan><tspan dy="4.2"> = 0.75</tspan></text>
<text x="413.8" y="322.4" font-size="8.8" fill="#000" text-anchor="start">p = 8.7e-12</text>
<text x="343.2" y="235.3" font-size="12.3" fill="#000" text-anchor="start" font-weight="bold">C</text>
</svg></body></html>
